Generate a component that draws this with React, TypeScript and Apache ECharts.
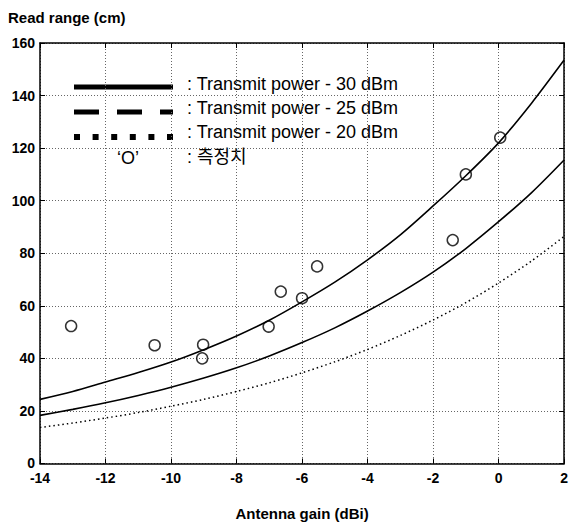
import React, { useEffect, useRef } from "react";
import * as echarts from "echarts";

const gains = [-14, -13, -12, -11, -10, -9, -8, -7, -6, -5, -4, -3, -2, -1, 0, 1, 2];
const range30 = [24.4, 27.4, 31.0, 34.6, 38.6, 43.3, 48.5, 54.5, 61.5, 69.0, 77.5, 87.0, 98.0, 109.5, 122.0, 137.0, 153.5];
const range25 = [18.3, 20.6, 23.1, 25.9, 29.0, 32.5, 36.4, 40.9, 46.0, 51.6, 58.0, 65.0, 72.8, 81.8, 92.0, 103.0, 115.5];
const range20 = [13.7, 15.4, 17.3, 19.4, 21.8, 24.4, 27.4, 30.7, 34.5, 38.7, 43.4, 48.7, 54.6, 61.2, 68.7, 77.0, 86.4];
const measuredGain = [-13.05, -10.5, -9.02, -9.05, -7.02, -6.65, -6.0, -5.54, -1.4, -1.0, 0.05];
const measuredRange = [52.3, 45.0, 45.2, 40.0, 52.1, 65.4, 62.9, 75.0, 85.0, 110.0, 124.0];
const legendLabels = [
  ": Transmit power - 30 dBm",
  ": Transmit power - 25 dBm",
  ": Transmit power - 20 dBm",
  ": 측정치",
];
const yTitle = "Read range (cm)";
const xTitle = "Antenna gain (dBi)";

const FONT = "'Liberation Sans', Arial, 'Noto Sans CJK KR', sans-serif";

export default function App() {
  const ref = useRef<HTMLDivElement>(null);
  useEffect(() => {
    if (!ref.current) return;
    const chart = echarts.init(ref.current, undefined, { renderer: "svg" });
    const pair = (ys: number[]) => gains.map((g, i) => [g, ys[i]]);
    const axisLine = { show: true, onZero: false, lineStyle: { color: "#000", width: 1.5 } };
    const tick = { show: true, inside: true, length: 5, lineStyle: { color: "#000", width: 1 } };
    const gridLine = { show: true, lineStyle: { color: "#666", type: [1, 2], width: 1 } };
    const labelStyle = { color: "#000", fontFamily: FONT, fontWeight: "bold" as const, fontSize: 14 };
    const legendTextStyle = { fill: "#000", font: `18px ${FONT}` };
    chart.setOption({
      animation: false,
      backgroundColor: "#fff",
      grid: { left: 40, top: 43, right: 3, bottom: 59, containLabel: false },
      xAxis: [
        {
          type: "value", min: -14, max: 2, interval: 2, position: "bottom",
          axisLine, axisTick: tick, splitLine: gridLine,
          axisLabel: { ...labelStyle, margin: 8 },
          name: xTitle, nameLocation: "middle", nameGap: 50,
          nameTextStyle: { ...labelStyle, fontSize: 15, verticalAlign: "middle" },
        },
        {
          type: "value", min: -14, max: 2, interval: 2, position: "top",
          axisLine, axisTick: tick, splitLine: { show: false }, axisLabel: { show: false },
        },
      ],
      yAxis: [
        {
          type: "value", min: 0, max: 160, interval: 20, position: "left",
          axisLine, axisTick: tick, splitLine: gridLine,
          axisLabel: { ...labelStyle, margin: 5 },
        },
        {
          type: "value", min: 0, max: 160, interval: 20, position: "right",
          axisLine, axisTick: tick, splitLine: { show: false }, axisLabel: { show: false },
        },
      ],
      graphic: [
        {
          type: "text", left: 8, top: 10,
          style: { text: yTitle, fill: "#000", font: `bold 15px ${FONT}` },
        },
        {
          type: "group", left: 62, top: 67,
          children: [
            { type: "rect", shape: { x: 0, y: 0, width: 341, height: 103 }, style: { fill: "#fff" } },
            { type: "line", shape: { x1: 12, y1: 20, x2: 111, y2: 20 }, style: { stroke: "#000", lineWidth: 5 } },
            { type: "line", shape: { x1: 12, y1: 45, x2: 111, y2: 45 }, style: { stroke: "#000", lineWidth: 5, lineDash: [25, 18] } },
            { type: "line", shape: { x1: 12, y1: 70, x2: 111, y2: 70 }, style: { stroke: "#000", lineWidth: 6, lineDash: [6, 12.6] } },
            { type: "text", x: 66, y: 91, style: { ...legendTextStyle, text: "‘O’", align: "center", verticalAlign: "middle" } },
            { type: "text", x: 125, y: 17, style: { ...legendTextStyle, text: legendLabels[0], verticalAlign: "middle" } },
            { type: "text", x: 125, y: 41, style: { ...legendTextStyle, text: legendLabels[1], verticalAlign: "middle" } },
            { type: "text", x: 125, y: 65, style: { ...legendTextStyle, text: legendLabels[2], verticalAlign: "middle" } },
            { type: "text", x: 125, y: 90, style: { ...legendTextStyle, text: legendLabels[3], verticalAlign: "middle" } },
          ],
        },
      ],
      series: [
        {
          name: "Transmit power - 30 dBm", type: "line", data: pair(range30), smooth: 0.3,
          showSymbol: false, lineStyle: { color: "#000", width: 1.6 }, z: 2,
        },
        {
          name: "Transmit power - 25 dBm", type: "line", data: pair(range25), smooth: 0.3,
          showSymbol: false, lineStyle: { color: "#000", width: 1.6 }, z: 2,
        },
        {
          name: "Transmit power - 20 dBm", type: "line", data: pair(range20), smooth: 0.3,
          showSymbol: false, lineStyle: { color: "#000", width: 1.5, type: [1.5, 3] }, z: 2,
        },
        {
          name: "측정치", type: "scatter", data: measuredGain.map((g, i) => [g, measuredRange[i]]),
          symbol: "circle", symbolSize: 11,
          itemStyle: { color: "transparent", borderColor: "#000", borderWidth: 1.5 }, z: 3,
        },
      ],
    });
    return () => chart.dispose();
  }, []);
  return (
    <div
      ref={ref}
      style={{ position: "fixed", left: 0, top: 0, width: 571, height: 526, background: "#fff" }}
    />
  );
}
